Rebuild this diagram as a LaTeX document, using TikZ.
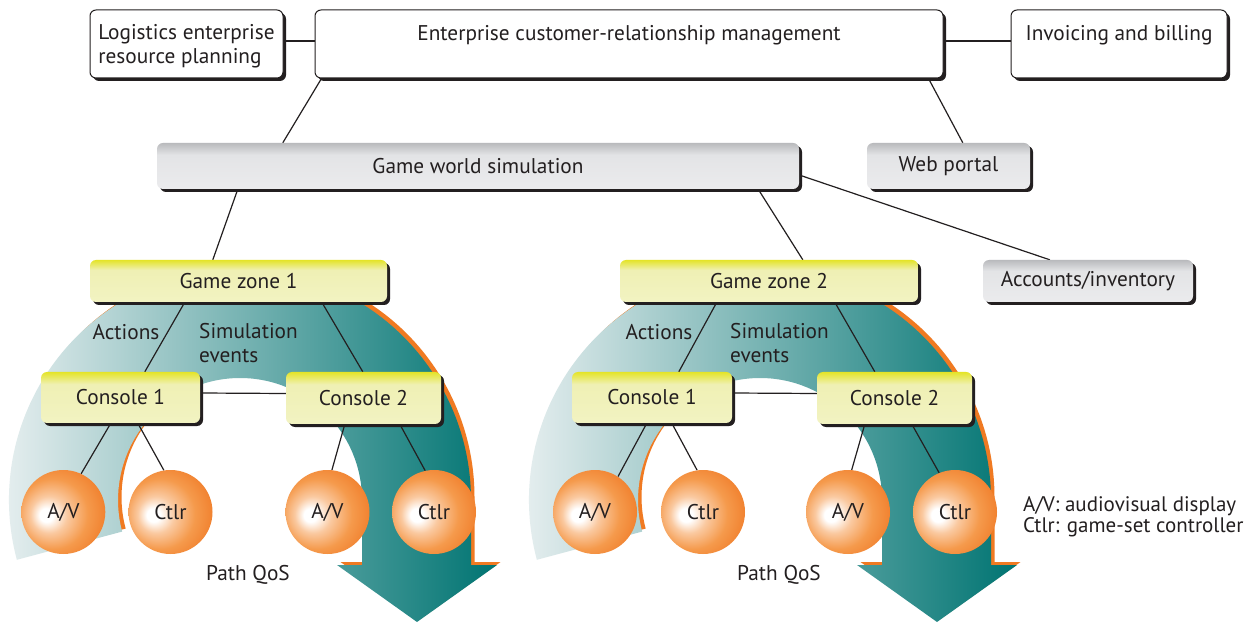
\documentclass[tikz,border=0pt]{standalone}
\usepackage{fontspec}
\setmainfont{PT Sans}
\usetikzlibrary{shadows}

\definecolor{ink}{HTML}{231F20}
\definecolor{qosorange}{HTML}{F07A22}
\definecolor{qoslight}{HTML}{EFF3F4}
\definecolor{qosmid}{HTML}{8FB8BA}
\definecolor{qosteal}{HTML}{007472}
\definecolor{grayT}{HTML}{B9BABD}
\definecolor{grayM}{HTML}{E3E4E6}
\definecolor{grayB}{HTML}{EBEBED}
\definecolor{yelT}{HTML}{E4E428}
\definecolor{yelM}{HTML}{EFF0B4}
\definecolor{yelB}{HTML}{F2F3C2}
\definecolor{orbL}{HTML}{FAC9A0}
\definecolor{orbM}{HTML}{F59A4C}
\definecolor{orbD}{HTML}{EF7622}

% box fills: strong colour in a thin band along the top edge
\pgfdeclareverticalshading{grayfill}{100bp}{color(0bp)=(grayB); color(25bp)=(grayB); color(62bp)=(grayM); color(75bp)=(grayT); color(100bp)=(grayT)}
\pgfdeclareverticalshading{yelfill}{100bp}{color(0bp)=(yelB); color(25bp)=(yelB); color(63bp)=(yelM); color(75bp)=(yelT); color(100bp)=(yelT)}
% device spheres with a highlight left of centre
\pgfdeclareradialshading{orbfill}{\pgfpoint{-11bp}{-2bp}}{color(0bp)=(white); color(4bp)=(white); color(11bp)=(orbL); color(21bp)=(orbM); color(34bp)=(orbD); color(50bp)=(orbD)}

\pgfdeclarelayer{bandlayer}
\pgfdeclarelayer{wirelayer}
\pgfsetlayers{bandlayer,wirelayer,main}

\begin{document}
\begin{tikzpicture}[x=1pt,y=1pt,
  font=\fontsize{21.3}{24}\selectfont, text=ink,
  box/.style={rounded corners=6pt, inner sep=0pt,
    drop shadow={shadow xshift=3pt, shadow yshift=-3pt, opacity=1, fill=ink}},
  topbox/.style={box, draw=ink, line width=1pt, fill=white, minimum height=68pt},
  graybox/.style={box, shade, shading=grayfill, minimum height=46pt},
  yelbox/.style={box, shade, shading=yelfill},
  orb/.style={circle, inner sep=0pt, minimum size=84pt, shade, shading=orbfill},
  lbl/.style={inner sep=0pt, align=left},
  wire/.style={draw=ink, line width=1.2pt},
]
\useasboundingbox (0,0) rectangle (1257,624);

% enterprise tier
\node[topbox, minimum width=193pt, align=left, text depth=0pt] (logi) at (186.5,580)
  {Logistics enterprise\\resource planning};
\node[topbox, minimum width=628pt, minimum height=0pt, text height=31pt, text depth=37pt] (crm) at (629,580)
  {Enterprise customer-relationship management};
\node[topbox, minimum width=216pt, minimum height=0pt, text height=31pt, text depth=37pt] (inv) at (1119,580)
  {Invoicing and billing};

% simulation tier
\node[graybox, minimum width=642pt] (gws) at (478,458) {Game world simulation};
\node[graybox, minimum width=163pt] (web) at (948.5,458) {Web portal};
\node[graybox, minimum width=210pt, minimum height=42pt] (acc) at (1088,343) {Accounts/inventory};

% game zones and consoles
\node[yelbox, minimum width=297pt, minimum height=42pt] (z1) at (238.5,343) {Game zone 1};
\node[yelbox, minimum width=298pt, minimum height=42pt] (z2) at (769,343) {Game zone 2};
\node[yelbox, minimum width=159pt, minimum height=51pt] (c11) at (120.5,226.5) {Console 1};
\node[yelbox, minimum width=155pt, minimum height=52pt] (c12) at (363.5,226) {Console 2};
\node[yelbox, minimum width=160pt, minimum height=51pt] (c21) at (652,226.5) {Console 1};
\node[yelbox, minimum width=155pt, minimum height=52pt] (c22) at (894.5,226) {Console 2};

% devices
\node[orb] (av1) at (63.3,112) {A/V};
\node[orb] (ct1) at (170.5,112) {Ctlr};
\node[orb] (av2) at (327.5,112) {A/V};
\node[orb] (ct2) at (434,112) {Ctlr};
\node[orb] (av3) at (595,112) {A/V};
\node[orb] (ct3) at (703,112) {Ctlr};
\node[orb] (av4) at (848,112) {A/V};
\node[orb] (ct4) at (955,112) {Ctlr};

% flow labels
\node[lbl] (act1) at (126,292) {Actions};
\node[lbl, anchor=west] (sim1) at (199,280.5) {Simulation\\events};
\node[lbl] (qos1) at (248,49) {Path QoS};
\node[lbl] (act2) at (659,292) {Actions};
\node[lbl, anchor=west] (sim2) at (730,280.5) {Simulation\\events};
\node[lbl] (qos2) at (779,49) {Path QoS};

% key
\node[lbl, anchor=west, font=\fontsize{21}{21.5}\selectfont] (key) at (1023,107.5)
  {A/V: audiovisual display\\Ctlr: game-set controller};

% curved QoS arrows behind each zone
\begin{pgfonlayer}{bandlayer}
  \fill[white] (0,0) rectangle (1257,624);
  \foreach \dx in {0,520} {
    \fill[qosorange, shift={(\dx+3.5,3)}]
      (16.87,64.21) arc[start angle=195, end angle=0, radius=231]
      -- (471,59) -- (497,59) -- (417,2) -- (337,59) -- (362,59) -- (362,124)
      arc[start angle=0, end angle=195, radius=122] -- cycle;
    \shade[left color=qoslight, middle color=qosmid, right color=qosteal, shift={(\dx,0)}]
      (16.87,64.21) arc[start angle=195, end angle=0, radius=231]
      -- (471,59) -- (497,59) -- (417,2) -- (337,59) -- (362,59) -- (362,124)
      arc[start angle=0, end angle=195, radius=122] -- cycle;
  }
\end{pgfonlayer}

% connectors
\begin{pgfonlayer}{wirelayer}
  \draw[wire] ([yshift=3pt]logi.east) -- ([yshift=3pt]crm.west);
  \draw[wire] ([yshift=3pt]crm.east) -- ([yshift=3pt]inv.west);
  \draw[wire] ([xshift=7pt]crm.south west) -- ([xshift=126pt]gws.north west);
  \draw[wire] ([xshift=-15pt]crm.south east) -- ([xshift=96pt]web.north west);
  \draw[wire] ([yshift=-9pt]gws.east) -- ([xshift=67pt]acc.north west);
  \draw[wire] ([xshift=81pt]gws.south west) -- ([xshift=123pt]z1.north west);
  \draw[wire] ([xshift=-41pt]gws.south east) -- ([xshift=183pt]z2.north west);

  \draw[wire] ([xshift=95pt]z1.south west) -- ([xshift=104pt]c11.north west);
  \draw[wire] ([xshift=232pt]z1.south west) -- ([xshift=77pt]c12.north west);
  \draw[wire] ([yshift=4.5pt]c11.east) -- ([yshift=4.5pt]c12.west);
  \draw[wire] ([xshift=70pt]c11.south west) -- (av1.65);
  \draw[wire] ([xshift=97pt]c11.south west) -- (ct1.99);
  \draw[wire] ([xshift=59pt]c12.south west) -- (av2.84);
  \draw[wire] ([xshift=114pt]c12.south west) -- (ct2.102);

  \draw[wire] ([xshift=97pt]z2.south west) -- ([xshift=107pt]c21.north west);
  \draw[wire] ([xshift=215pt]z2.south west) -- ([xshift=58pt]c22.north west);
  \draw[wire] ([yshift=4.5pt]c21.east) -- ([yshift=4.5pt]c22.west);
  \draw[wire] ([xshift=75pt]c21.south west) -- (av3.57);
  \draw[wire] ([xshift=100pt]c21.south west) -- (ct3.98);
  \draw[wire] ([xshift=48pt]c22.south west) -- (av4.85);
  \draw[wire] ([xshift=95pt]c22.south west) -- (ct4.112);
\end{pgfonlayer}
\end{tikzpicture}
\end{document}
